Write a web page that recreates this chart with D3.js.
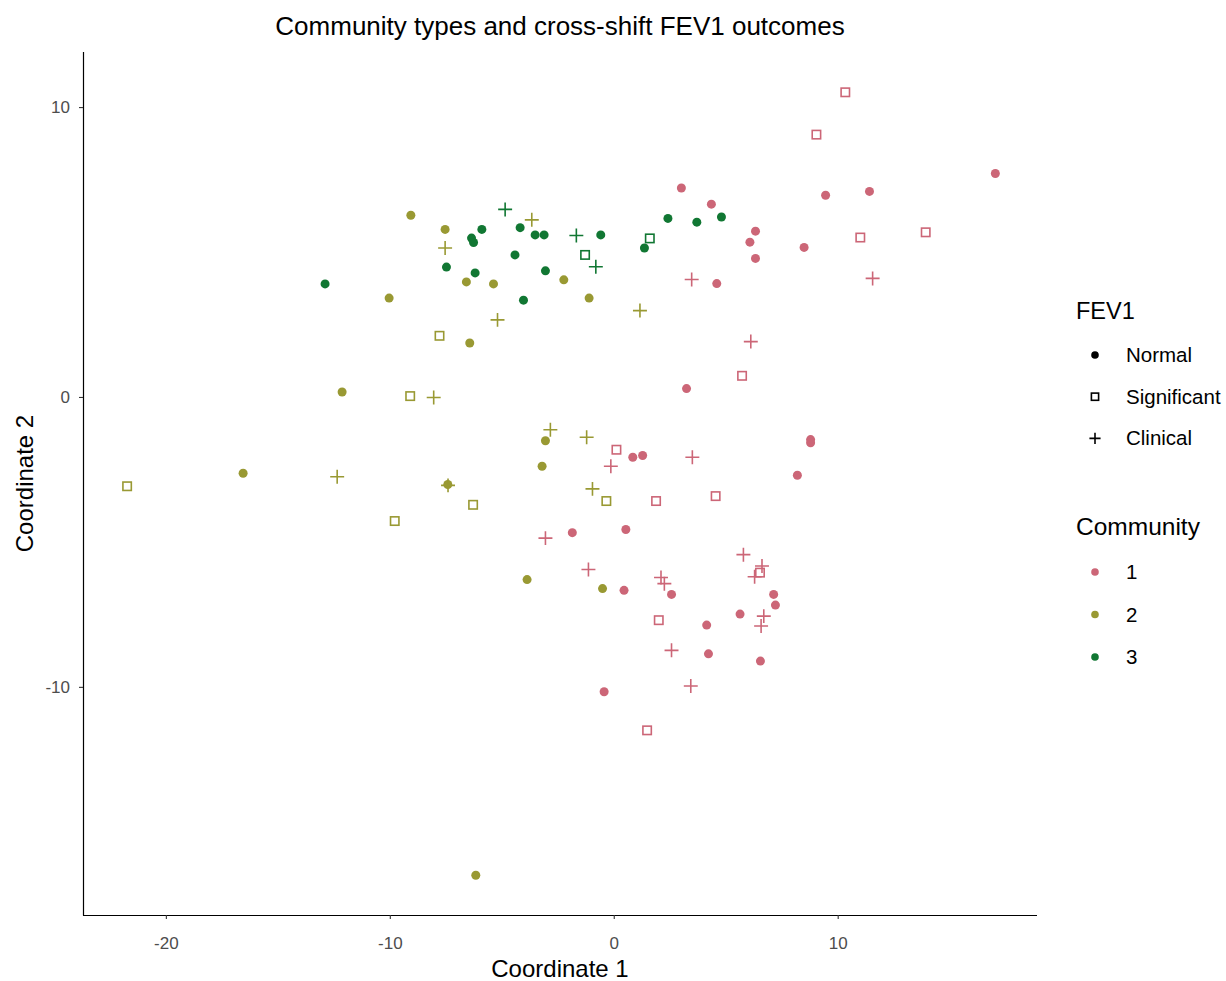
<!doctype html>
<html>
<head>
<meta charset="utf-8">
<style>
  body { margin: 0; background: #fff; }
  svg text { font-family: "Liberation Sans", Arial, sans-serif; }
</style>
<script src="https://cdn.jsdelivr.net/npm/d3@7"></script>
</head>
<body>
<svg id="chart" width="1226" height="981"></svg>
<script>
var fevLevels = ["Normal", "Significant", "Clinical"];
var communities = ["1", "2", "3"];
var communityColors = ["#cc6677", "#999933", "#117733"];
var xTicks = [-20, -10, 0, 10];
var yTicks = [-10, 0, 10];

// [coord1, coord2, fev]  N = Normal, S = Significant, C = Clinical
var community1 = [
  [3.02, 7.21, "N"], [4.36, 6.65, "N"], [6.33, 5.72, "N"], [6.08, 5.34, "N"], [6.33, 4.78, "N"],
  [4.60, 3.91, "N"], [17.04, 7.71, "N"], [9.46, 6.96, "N"], [11.42, 7.09, "N"], [8.50, 5.16, "N"],
  [3.25, 0.29, "N"], [0.85, -2.08, "N"], [1.29, -2.02, "N"], [8.79, -1.47, "N"], [8.79, -1.58, "N"],
  [8.20, -2.70, "N"], [-1.85, -4.68, "N"], [0.54, -4.57, "N"], [0.46, -6.67, "N"], [2.58, -6.81, "N"],
  [7.14, -6.81, "N"], [7.22, -7.18, "N"], [5.64, -7.49, "N"], [4.15, -7.87, "N"], [4.23, -8.86, "N"],
  [6.55, -9.11, "N"], [-0.43, -10.17, "N"],
  [10.34, 10.51, "S"], [9.05, 9.05, "S"], [11.01, 5.50, "S"], [13.93, 5.68, "S"], [5.73, 0.73, "S"],
  [0.12, -1.82, "S"], [1.89, -3.59, "S"], [4.55, -3.42, "S"], [6.53, -6.06, "S"], [2.01, -7.70, "S"],
  [1.49, -11.50, "S"],
  [3.48, 4.05, "C"], [11.56, 4.09, "C"], [6.12, 1.91, "C"], [-0.13, -2.39, "C"], [3.51, -2.08, "C"],
  [-3.05, -4.87, "C"], [-1.13, -5.95, "C"], [2.11, -6.23, "C"], [2.26, -6.44, "C"], [5.79, -5.44, "C"],
  [6.62, -5.83, "C"], [6.29, -6.20, "C"], [6.70, -7.56, "C"], [6.58, -7.90, "C"], [2.58, -8.74, "C"],
  [3.44, -9.97, "C"]
];
var community2 = [
  [-9.06, 6.27, "N"], [-7.53, 5.78, "N"], [-6.58, 3.97, "N"], [-5.37, 3.90, "N"], [-10.03, 3.41, "N"],
  [-2.23, 4.04, "N"], [-1.10, 3.41, "N"], [-6.43, 1.86, "N"], [-12.13, 0.17, "N"], [-16.55, -2.63, "N"],
  [-7.41, -3.02, "N"], [-3.05, -1.51, "N"], [-3.20, -2.39, "N"], [-3.87, -6.30, "N"], [-0.50, -6.61, "N"],
  [-6.16, -16.50, "N"],
  [-7.78, 2.11, "S"], [-9.09, 0.03, "S"], [-21.73, -3.08, "S"], [-9.78, -4.28, "S"], [-6.28, -3.72, "S"],
  [-0.33, -3.59, "S"],
  [-3.66, 6.11, "C"], [-7.53, 5.14, "C"], [-5.19, 2.66, "C"], [1.17, 2.98, "C"], [-8.04, -0.02, "C"],
  [-12.35, -2.75, "C"], [-7.40, -3.05, "C"], [-2.83, -1.13, "C"], [-1.21, -1.39, "C"], [-0.95, -3.17, "C"]
];
var community3 = [
  [-12.89, 3.90, "N"], [-7.47, 4.48, "N"], [-6.35, 5.48, "N"], [-6.26, 5.33, "N"], [-6.19, 4.28, "N"],
  [-5.89, 5.78, "N"], [-4.18, 5.84, "N"], [-4.41, 4.90, "N"], [-4.03, 3.34, "N"], [-3.51, 5.59, "N"],
  [-3.11, 5.59, "N"], [-3.05, 4.35, "N"], [-0.58, 5.59, "N"], [1.37, 5.14, "N"], [2.42, 6.16, "N"],
  [3.71, 6.03, "N"], [4.81, 6.21, "N"],
  [-1.28, 4.90, "S"], [1.61, 5.47, "S"],
  [-4.85, 6.47, "C"], [-1.67, 5.57, "C"], [-0.80, 4.49, "C"]
];

function drawChart() {
  var points = [];
  [community1, community2, community3].forEach(function(arr, i) {
    arr.forEach(function(p) {
      points.push({ x: p[0], y: p[1], fev: p[2], comm: communities[i] });
    });
  });

  var svg = d3.select("#chart");
  var pLeft = 83, pRight = 1037, pTop = 52, pBottom = 915;

  var x = d3.scaleLinear().domain([-23.7, 18.9]).range([pLeft, pRight]);
  var y = d3.scaleLinear().domain([-17.87, 11.9]).range([pBottom, pTop]);
  var color = d3.scaleOrdinal().domain(communities).range(communityColors);

  // axes, classic style
  var fmt = function(d) { return String(d); };
  var xAxis = svg.append("g")
    .attr("transform", "translate(0," + pBottom + ")")
    .call(d3.axisBottom(x).tickValues(xTicks).tickFormat(fmt).tickSizeInner(4).tickSizeOuter(0).tickPadding(18));
  var yAxis = svg.append("g")
    .attr("transform", "translate(" + pLeft + ",0)")
    .call(d3.axisLeft(y).tickValues(yTicks).tickFormat(fmt).tickSizeInner(4).tickSizeOuter(0).tickPadding(9));

  [xAxis, yAxis].forEach(function(a) {
    a.select(".domain").attr("stroke", "#000").attr("stroke-width", 1.2);
    a.selectAll(".tick line").attr("stroke", "#333").attr("stroke-width", 1.1);
    a.selectAll(".tick text").attr("fill", "#4d4d4d").attr("font-size", "17px")
      .style("font-family", "'Liberation Sans', Arial, sans-serif");
  });
  yAxis.select(".domain").attr("d", "M0.5," + pTop + "V" + (pBottom + 0.5));
  xAxis.select(".domain").attr("d", "M" + pLeft + ",0.5H" + pRight);

  function drawShape(g, fev, col, r) {
    if (fev === "N") {
      g.append("circle").attr("r", r).attr("fill", col);
    } else if (fev === "S") {
      g.append("rect").attr("x", -r).attr("y", -r).attr("width", 2 * r).attr("height", 2 * r)
        .attr("fill", "none").attr("stroke", col).attr("stroke-width", 1.6);
    } else {
      var a = r * 1.55;
      g.append("path").attr("d", "M" + (-a) + ",0H" + a + "M0," + (-a) + "V" + a)
        .attr("fill", "none").attr("stroke", col).attr("stroke-width", 1.6);
    }
  }

  var pts = svg.append("g");
  points.forEach(function(d) {
    var g = pts.append("g").attr("transform", "translate(" + x(d.x) + "," + y(d.y) + ")");
    drawShape(g, d.fev, color(d.comm), d.fev === "S" ? 4.2 : 4.5);
  });

  // title and axis titles
  svg.append("text")
    .attr("x", (pLeft + pRight) / 2).attr("y", 35)
    .attr("text-anchor", "middle").attr("font-size", "26px").attr("fill", "#000")
    .text("Community types and cross-shift FEV1 outcomes");
  svg.append("text")
    .attr("x", (pLeft + pRight) / 2).attr("y", 977)
    .attr("text-anchor", "middle").attr("font-size", "24px").attr("fill", "#000")
    .text("Coordinate 1");
  svg.append("text")
    .attr("transform", "translate(33," + ((pTop + pBottom) / 2) + ") rotate(-90)")
    .attr("text-anchor", "middle").attr("font-size", "24px").attr("fill", "#000")
    .text("Coordinate 2");

  // legends
  var lx = 1076;
  svg.append("text").attr("x", lx).attr("y", 319).attr("font-size", "23.5px").text("FEV1");
  fevLevels.forEach(function(f, i) {
    var cy = 355 + i * 41.7;
    var g = svg.append("g").attr("transform", "translate(1095," + cy + ")");
    drawShape(g, f.charAt(0), "#000", f === "Normal" ? 3.8 : 3.6);
    svg.append("text").attr("x", 1126).attr("y", cy + 7).attr("font-size", "20.5px").text(f);
  });

  svg.append("text").attr("x", lx).attr("y", 535).attr("font-size", "24.5px").text("Community");
  communities.forEach(function(c, i) {
    var cy = 572 + i * 42.5;
    svg.append("circle").attr("cx", 1095).attr("cy", cy).attr("r", 3.8).attr("fill", color(c));
    svg.append("text").attr("x", 1126).attr("y", cy + 7).attr("font-size", "20.5px").text(c);
  });
}

drawChart();
</script>
</body>
</html>
